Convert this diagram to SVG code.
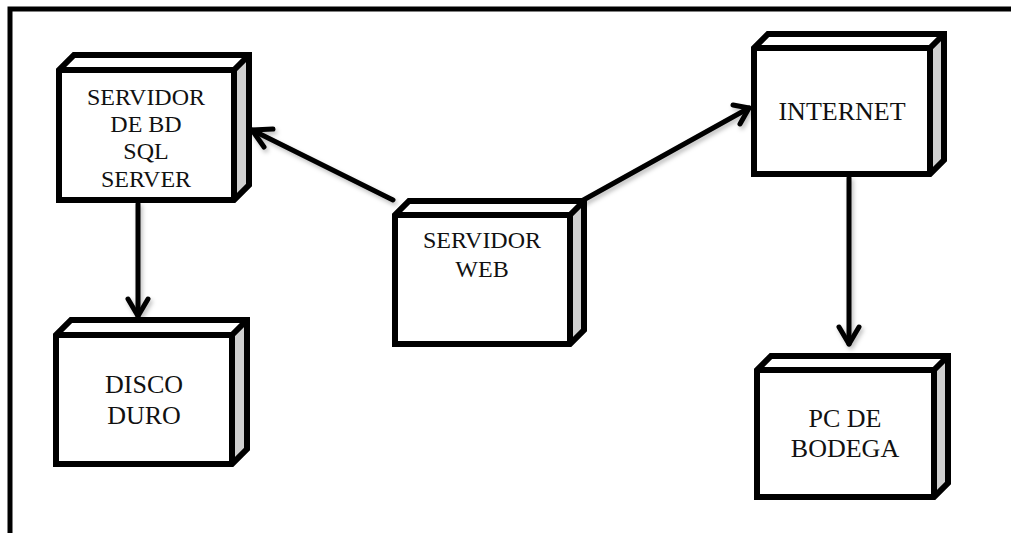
<svg xmlns="http://www.w3.org/2000/svg" width="1011" height="533" viewBox="0 0 1011 533">
  <style>
    .face { fill: #ffffff; stroke: none; }
    .side { fill: #d0d0d0; stroke: none; }
    .outline { fill: none; stroke: #000000; stroke-width: 6; stroke-linejoin: miter; stroke-miterlimit: 3; }
    .label { font-family: "Liberation Serif", "Times New Roman", serif; fill: #111111; text-anchor: middle; }
    .edge { fill: none; stroke: #000000; stroke-width: 5; stroke-linecap: round; stroke-linejoin: round; }
    .frame { fill: none; stroke: #000000; stroke-width: 5; }
  </style>
  <defs>
    <filter id="soft" x="-10%" y="-10%" width="130%" height="130%">
      <feDropShadow dx="2" dy="3" stdDeviation="2" flood-color="#000000" flood-opacity="0.25"/>
    </filter>
  </defs>

  <rect width="1011" height="533" fill="#ffffff"/>

  <!-- outer frame (top and left edges) -->
  <polyline class="frame" points="10,533 10,9 1011,9"/>

  <!-- connectors -->
  <g id="connectors" filter="url(#soft)">
    <!-- web server to database server -->
    <line class="edge" x1="393" y1="200" x2="252" y2="130"/>
    <polyline class="edge" points="273,129 252,130 264,147"/>
    <!-- web server to internet -->
    <line class="edge" x1="578" y1="203" x2="749" y2="108"/>
    <polyline class="edge" points="733,105 749,108 740,124"/>
    <!-- database server to disk -->
    <line class="edge" x1="138" y1="204" x2="138" y2="316"/>
    <polyline class="edge" points="128,299 138,316 148,299"/>
    <!-- internet to warehouse pc -->
    <line class="edge" x1="849" y1="178" x2="849" y2="344"/>
    <polyline class="edge" points="839,327 849,344 859,327"/>
  </g>

  <!-- SERVIDOR DE BD SQL SERVER  (front 59,70 175x130, depth 15) -->
  <g id="node-servidor-bd">
    <path class="face" d="M59,200 V70 L74,55 H249 L234,70 H59 Z M59,70 H234 V200 H59 Z"/>
    <path class="side" d="M234,70 L249,55 V185 L234,200 Z"/>
    <path class="outline" d="M59,200 V70 L74,55 H249 V185 L234,200 Z M59,70 H234 V200 M234,70 L249,55"/>
    <text class="label" font-size="24" x="146" y="105">SERVIDOR</text>
    <text class="label" font-size="24" x="146" y="132">DE BD</text>
    <text class="label" font-size="24" x="146" y="159">SQL</text>
    <text class="label" font-size="24" x="146" y="187">SERVER</text>
  </g>

  <!-- SERVIDOR WEB  (front 395,215 175x129, depth 14) -->
  <g id="node-servidor-web">
    <path class="face" d="M395,344 V215 L409,201 H584 L570,215 V344 Z"/>
    <path class="side" d="M570,215 L584,201 V330 L570,344 Z"/>
    <path class="outline" d="M395,344 V215 L409,201 H584 V330 L570,344 Z M395,215 H570 V344 M570,215 L584,201"/>
    <text class="label" font-size="24" x="482" y="248">SERVIDOR</text>
    <text class="label" font-size="24" x="482" y="277">WEB</text>
  </g>

  <!-- INTERNET  (front 754,48 176x126, depth 14) -->
  <g id="node-internet">
    <path class="face" d="M754,174 V48 L768,34 H944 L930,48 V174 Z"/>
    <path class="side" d="M930,48 L944,34 V160 L930,174 Z"/>
    <path class="outline" d="M754,174 V48 L768,34 H944 V160 L930,174 Z M754,48 H930 V174 M930,48 L944,34"/>
    <text class="label" font-size="26" x="842" y="120">INTERNET</text>
  </g>

  <!-- DISCO DURO  (front 56,335 176x129, depth 15) -->
  <g id="node-disco">
    <path class="face" d="M56,464 V335 L71,320 H247 L232,335 V464 Z"/>
    <path class="side" d="M232,335 L247,320 V449 L232,464 Z"/>
    <path class="outline" d="M56,464 V335 L71,320 H247 V449 L232,464 Z M56,335 H232 V464 M232,335 L247,320"/>
    <text class="label" font-size="26" x="144" y="393">DISCO</text>
    <text class="label" font-size="26" x="144" y="424">DURO</text>
  </g>

  <!-- PC DE BODEGA  (front 757,370 177x127, depth 14) -->
  <g id="node-pc-bodega">
    <path class="face" d="M757,497 V370 L771,356 H948 L934,370 V497 Z"/>
    <path class="side" d="M934,370 L948,356 V483 L934,497 Z"/>
    <path class="outline" d="M757,497 V370 L771,356 H948 V483 L934,497 Z M757,370 H934 V497 M934,370 L948,356"/>
    <text class="label" font-size="26" x="845" y="427">PC DE</text>
    <text class="label" font-size="26" x="845" y="457">BODEGA</text>
  </g>
</svg>
